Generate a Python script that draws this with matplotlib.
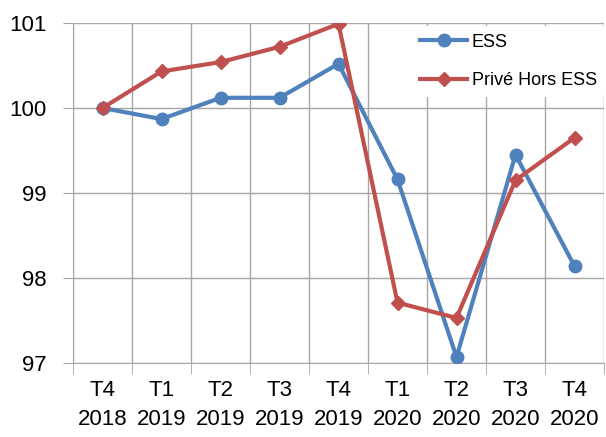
import numpy as np
import matplotlib.pyplot as plt

quarters = ['T4\n2018', 'T1\n2019', 'T2\n2019', 'T3\n2019', 'T4\n2019',
            'T1\n2020', 'T2\n2020', 'T3\n2020', 'T4\n2020']
ess = [100.0, 99.87, 100.12, 100.12, 100.52, 99.16, 97.07, 99.45, 98.14]
prive = [100.0, 100.43, 100.54, 100.72, 100.99, 97.71, 97.53, 99.15, 99.65]

blue = '#4F81BD'
red = '#C0504D'
grid_color = '#A6A6A6'

plt.rcParams['font.family'] = ['Liberation Sans', 'DejaVu Sans']

fig = plt.figure(figsize=(6.06, 4.37), dpi=100)
ax = fig.add_axes((73/606, 1 - 363/437, 531/606, 340/437))

x = np.arange(len(quarters))
ax.plot(x, ess, color=blue, lw=3, marker='o', ms=9, label='ESS', zorder=3)
ax.plot(x, prive, color=red, lw=3, marker='D', ms=7, label='Privé Hors ESS', zorder=4)

ax.set_xlim(-0.5, len(quarters) - 0.5)
ax.set_ylim(97, 101)
ax.set_yticks([97, 98, 99, 100, 101])
ax.set_xticks(x)
ax.set_xticklabels(quarters, fontsize=16, linespacing=1.55)
ax.set_xticks(np.arange(-0.5, len(quarters)), minor=True)

ax.tick_params(axis='x', which='major', length=0, pad=12)
ax.tick_params(axis='x', which='minor', length=8, color=grid_color, direction='out')
ax.tick_params(axis='y', length=7, color=grid_color, labelsize=16, pad=12)

ax.grid(axis='y', which='major', color=grid_color, lw=1)
ax.grid(axis='x', which='minor', color=grid_color, lw=1)
ax.set_axisbelow(True)

for s in ['top', 'right']:
    ax.spines[s].set_visible(False)
for s in ['left', 'bottom']:
    ax.spines[s].set_color(grid_color)

leg = ax.legend(loc='upper right', bbox_to_anchor=(1.0, 0.99), frameon=True,
                fontsize=13, labelspacing=1.2, handlelength=2.6,
                handletextpad=0.25, borderaxespad=0.0, borderpad=0.4)
leg.get_frame().set_edgecolor('none')
leg.get_frame().set_facecolor('white')
leg.get_frame().set_alpha(1)

fig.savefig('out.png', dpi=100)
